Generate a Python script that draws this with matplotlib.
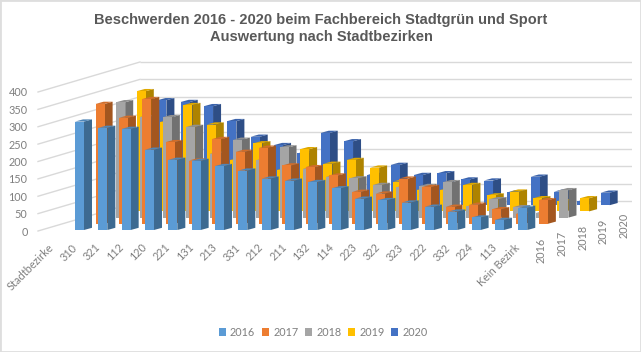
import matplotlib
matplotlib.use("Agg")
import matplotlib.pyplot as plt
from matplotlib.collections import PolyCollection
from matplotlib.patches import Patch, Rectangle
import numpy as np

categories = ["310", "321", "112", "120", "221", "131", "213", "331", "212", "211",
              "132", "114", "223", "322", "323", "222", "332", "224", "113", "Kein Bezirk"]
years = ["2016", "2017", "2018", "2019", "2020"]
v2016 = [312, 294, 291, 231, 202, 199, 184, 171, 148, 142, 138, 120, 90, 86, 79, 67, 53, 36, 29, 64]
v2017 = [345, 305, 359, 235, 182, 244, 207, 219, 168, 163, 139, 92, 87, 130, 106, 49, 55, 42, 28, 68]
v2018 = [332, 289, 289, 261, 184, 224, 165, 202, 141, 117, 113, 94, 87, 91, 102, 32, 53, 30, 14, 79]
v2019 = [346, 258, 306, 250, 148, 196, 119, 179, 137, 148, 126, 86, 62, 62, 76, 46, 57, 38, 29, 38]
v2020 = [302, 297, 285, 242, 197, 173, 149, 208, 184, 87, 116, 87, 92, 74, 71, 37, 82, 39, 11, 36]
series = [v2016, v2017, v2018, v2019, v2020]
front_colors = ["#5B9BD5", "#ED7D31", "#A5A5A5", "#FFC000", "#4472C4"]
side_colors = ["#3D6A91", "#A3561F", "#717171", "#AE8300", "#2E4E86"]
top_colors = ["#4F86B8", "#D06D2A", "#909090", "#DEA800", "#3B63AB"]
title = "Beschwerden 2016 - 2020 beim Fachbereich Stadtgrün und Sport\nAuswertung nach Stadtbezirken"

W, H = 641, 352
GRAY = "#7F7F7F"
GRID = "#D9D9D9"
plt.rcParams["font.family"] = ["Lato", "DejaVu Sans"]

# pixel geometry of the oblique view
CAT_PX, UNIT_PX = 23.33, 0.3475
X0_PX, Y0_PX = 79.5, 231.0
AX_L, AX_R, AX_T, AX_B = 38, 632, 60, 232
STEP_X, STEP_Y = 20.6 / CAT_PX, 6.2 / UNIT_PX
BAR_W, SIDE_X, SIDE_Y = 9 / CAT_PX, 8 / CAT_PX, 2.2 / UNIT_PX
BASE = 1 / UNIT_PX
WALL_X, WALL_Y = 102 / CAT_PX, 30 / UNIT_PX

fig = plt.figure(figsize=(W / 100, H / 100), dpi=100, facecolor="white")
ax = fig.add_axes([AX_L / W, 1 - AX_B / H, (AX_R - AX_L) / W, (AX_B - AX_T) / H])
ax.set_xlim((AX_L - X0_PX) / CAT_PX, (AX_R - X0_PX) / CAT_PX)
ax.set_ylim((Y0_PX - AX_B) / UNIT_PX, (Y0_PX - AX_T) / UNIT_PX)
ax.patch.set_visible(False)
for sp in ax.spines.values():
    sp.set_visible(False)

# walls
ticks = np.arange(0, 401, 50)
xleft = ax.get_xlim()[0]
ax.hlines(ticks + WALL_Y, xleft + WALL_X, ax.get_xlim()[1], color=GRID, lw=1.0, zorder=1)
for t in ticks:
    ax.plot([xleft, xleft + WALL_X], [t, t + WALL_Y], color=GRID, lw=1.0, zorder=1, clip_on=False)

# bars, back to front
pos = np.arange(len(categories))
for s in range(len(series) - 1, -1, -1):
    vals = np.array(series[s], dtype=float)
    left = pos - BAR_W / 2 + s * STEP_X
    bottom = BASE + s * STEP_Y
    z = 10 + (len(series) - s) * 3
    ax.bar(left, vals, BAR_W, bottom=bottom, align="edge", color=front_colors[s], lw=0, zorder=z + 1)
    right = left + BAR_W
    sides = [[(r, bottom), (r + SIDE_X, bottom + SIDE_Y), (r + SIDE_X, bottom + v + SIDE_Y), (r, bottom + v)]
             for r, v in zip(right, vals)]
    tops = [[(l, bottom + v), (l + BAR_W, bottom + v), (l + BAR_W + SIDE_X, bottom + v + SIDE_Y),
             (l + SIDE_X, bottom + v + SIDE_Y)] for l, v in zip(left, vals)]
    ax.add_collection(PolyCollection(sides, facecolors=side_colors[s], edgecolors="none", zorder=z))
    ax.add_collection(PolyCollection(tops, facecolors=top_colors[s], edgecolors="none", zorder=z))

# value axis
ax.set_yticks(ticks)
ax.tick_params(axis="y", length=0, pad=7.5, labelsize=7.8, labelcolor=GRAY)

# category axis
ax.set_xticks(np.arange(-1, len(categories)) - 0.36)
ax.set_xticklabels(["Stadtbezirke"] + categories, rotation=45, ha="right", va="top",
                   rotation_mode="anchor", fontsize=7.8, color=GRAY)
ax.tick_params(axis="x", length=0, pad=7)

# depth axis
for s, y in enumerate(years):
    ax.text(len(categories) - 1 + 0.80 + s * STEP_X, -18 + s * STEP_Y, y, rotation=90, ha="center", va="top",
            fontsize=7.8, color=GRAY)

fig.text(321 / W, 1 - 28.5 / H, title, ha="center", va="center", fontsize=10.55, fontweight="bold",
         color="#595959", family=["Liberation Sans"], linespacing=1.3)

handles = [Patch(facecolor=c, edgecolor="none", label=y) for c, y in zip(front_colors, years)]
fig.legend(handles=handles, loc="center", bbox_to_anchor=(323 / W, 1 - 332 / H), ncol=5, frameon=False,
           fontsize=7.8, labelcolor=GRAY, handlelength=0.7, handleheight=0.7, handletextpad=0.35,
           columnspacing=0.6, borderpad=0, borderaxespad=0)

fig.add_artist(Rectangle((0, 0), 1, 1, transform=fig.transFigure, fill=False, edgecolor="#DEDEDE", lw=2))
fig.savefig("out.png", dpi=100)
